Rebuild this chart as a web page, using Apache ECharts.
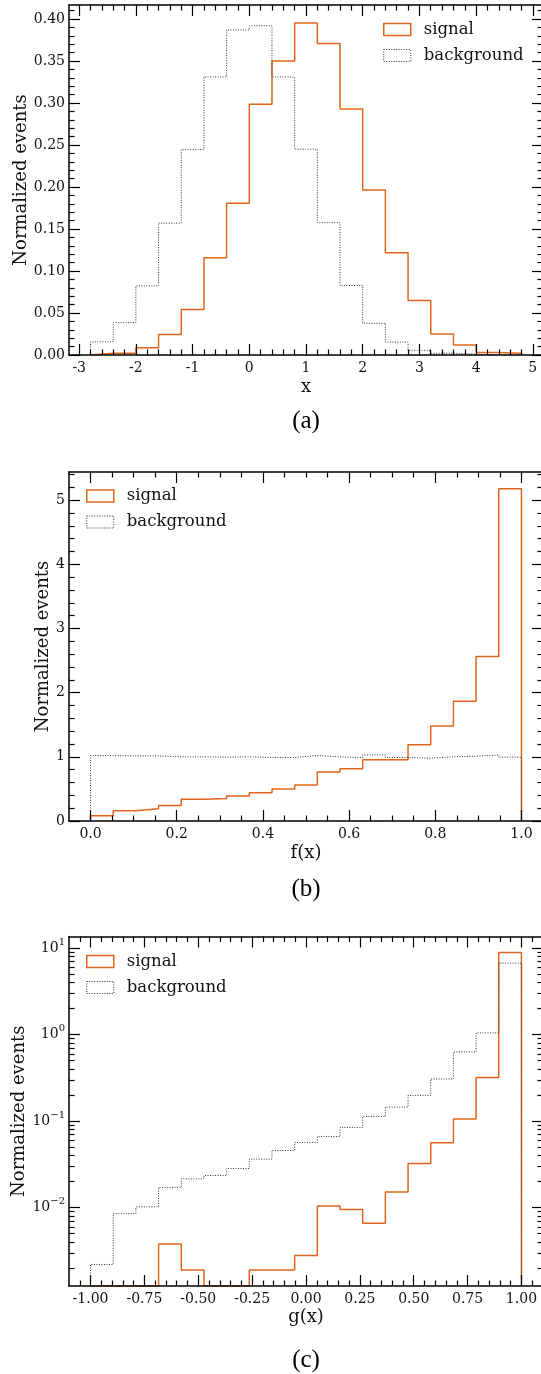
<!DOCTYPE html>
<html>
<head>
<meta charset="utf-8">
<style>
  html, body { margin: 0; padding: 0; background: #fff; }
  #chart { width: 541px; height: 1374px; }
</style>
<script src="https://cdn.jsdelivr.net/npm/echarts@6/dist/echarts.min.js"></script>
</head>
<body>
<div id="chart"></div>
<script>
const ORANGE = "#e0651a";
const DARK = "#333333";
const FONT = "DejaVu Serif";

// (a) raw variable x, 19 bins
const edgesA = [-2.8, -2.4, -2.0, -1.6, -1.2, -0.8, -0.4, 0.0, 0.4, 0.8, 1.2, 1.6, 2.0, 2.4, 2.8, 3.2, 3.6, 4.0, 4.4, 4.8];
const signalA = [0.002, 0.002, 0.0087, 0.0244, 0.0543, 0.1157, 0.1807, 0.2984, 0.350, 0.3953, 0.371, 0.293, 0.1965, 0.1217, 0.065, 0.025, 0.0118, 0.003, 0.002];
const backgroundA = [0.0157, 0.0386, 0.0823, 0.157, 0.2445, 0.331, 0.387, 0.392, 0.331, 0.245, 0.1575, 0.0827, 0.0378, 0.0154, 0.0055, 0.002, 0.001, 0, 0];
const xTicksA = [-3, -2, -1, 0, 1, 2, 3, 4, 5];
const yTicksA = [0, 0.05, 0.1, 0.15, 0.2, 0.25, 0.3, 0.35, 0.4];

// (b) f(x), 19 bins on [0, 1]
const edgesB = [0, 0.0526, 0.1053, 0.1579, 0.2105, 0.2632, 0.3158, 0.3684, 0.4211, 0.4737, 0.5263, 0.5789, 0.6316, 0.6842, 0.7368, 0.7895, 0.8421, 0.8947, 0.9474, 1.0];
const signalB = [0.083, 0.16, 0.19, 0.24, 0.34, 0.35, 0.39, 0.44, 0.50, 0.56, 0.764, 0.815, 0.955, 0.955, 1.19, 1.48, 1.865, 2.566, 5.18];
const backgroundB = [1.02, 1.015, 1.015, 1.0, 1.0, 0.995, 1.0, 0.99, 0.99, 1.02, 1.0, 0.985, 1.03, 0.99, 0.98, 1.0, 1.01, 1.03, 0.995];
const xTicksB = [0, 0.2, 0.4, 0.6, 0.8, 1.0];
const yTicksB = [0, 1, 2, 3, 4, 5];

// (c) g(x), 19 bins on [-1, 1], log y
const edgesC = [-1, -0.8947, -0.7895, -0.6842, -0.5789, -0.4737, -0.3684, -0.2632, -0.1579, -0.0526, 0.0526, 0.1579, 0.2632, 0.3684, 0.4737, 0.5789, 0.6842, 0.7895, 0.8947, 1.0];
const signalC = [0, 0, 0, 0.0038, 0.0019, 0, 0, 0.0019, 0.0019, 0.0028, 0.0104, 0.0095, 0.0066, 0.0151, 0.0324, 0.0561, 0.106, 0.318, 8.9];
const backgroundC = [0.0022, 0.0085, 0.0102, 0.0171, 0.0215, 0.0235, 0.0283, 0.0363, 0.0457, 0.0566, 0.0664, 0.0845, 0.113, 0.145, 0.198, 0.306, 0.63, 1.045, 6.7];
const xTicksC = [-1, -0.75, -0.5, -0.25, 0, 0.25, 0.5, 0.75, 1];
const yTicksC = [0.01, 0.1, 1, 10];

const captions = ["(a)", "(b)", "(c)"];

const round = (v) => Math.round(v * 1e6) / 1e6;

const minorsBetween = (lo, hi, step, majors) => {
  const out = [];
  for (let k = Math.ceil(lo / step - 1e-9); k * step < hi - 1e-9; k++) {
    const v = round(k * step);
    if (v > lo + 1e-9 && !majors.some((m) => Math.abs(m - v) < 1e-9)) out.push(v);
  }
  return out;
};

const logMinors = (lo, hi) => {
  const out = [];
  [0.001, 0.01, 0.1, 1, 10].forEach((d) => {
    for (let m = 2; m <= 9; m++) {
      const v = round(m * d);
      if (v > lo && v < hi) out.push(v);
    }
  });
  return out;
};

// step outline like matplotlib histtype="step"
const outline = (edges, values, floor) => {
  const pts = [[edges[0], floor]];
  values.forEach((v, i) => {
    const y = v > floor ? v : floor;
    pts.push([edges[i], y], [edges[i + 1], y]);
  });
  pts.push([edges[edges.length - 1], floor]);
  return pts;
};

const axisLineStyle = { color: "#000", width: 1.5 };
const tickStyle = { color: "#000", width: 1.2 };
const labelText = { color: "#111", fontFamily: FONT, fontSize: 14 };

const makeAxes = (kind, gridIndex, o) => {
  const sides = kind === "x" ? ["bottom", "top"] : ["left", "right"];
  const base = {
    gridIndex,
    type: o.type || "value",
    min: o.min,
    max: o.max,
    splitLine: { show: false },
    minorTick: { show: false },
    minorSplitLine: { show: false },
    nameMoveOverlap: false,
    silent: true,
    z: 5
  };
  if (o.type === "log") base.logBase = 10;
  const axes = [];
  sides.forEach((side, s) => {
    axes.push({
      ...base,
      position: side,
      axisLine: { show: true, onZero: false, lineStyle: axisLineStyle },
      axisTick: { show: true, inside: true, length: 11, customValues: o.major, lineStyle: tickStyle },
      axisLabel: s === 0
        ? { show: true, customValues: o.major, formatter: o.fmt, margin: o.margin, rich: o.rich, ...labelText }
        : { show: false },
      name: s === 0 ? o.name : "",
      nameLocation: "middle",
      nameGap: o.nameGap,
      nameTextStyle: { color: "#111", fontFamily: FONT, fontSize: 18 }
    });
    axes.push({
      ...base,
      position: side,
      axisLine: { show: false, onZero: false },
      axisTick: { show: true, inside: true, length: 5.5, customValues: o.minor, lineStyle: tickStyle },
      axisLabel: { show: false }
    });
  });
  return axes;
};

const supExp = (v) => {
  const e = Math.round(Math.log10(v));
  return `{b|10}{s|${e < 0 ? "\u2212" + -e : e}}`;
};

const yMinC = 0.00124;
const yMaxC = 13.6;

const panels = [
  {
    x: { min: -3.18, max: 5.18, major: xTicksA, minor: minorsBetween(-3.18, 5.18, 0.2, xTicksA), fmt: (v) => String(v), name: "x", nameGap: 23, margin: 6 },
    y: { min: 0, max: 0.4167, major: yTicksA, minor: minorsBetween(0, 0.4167, 0.01, yTicksA), fmt: (v) => v.toFixed(2), name: "Normalized events", nameGap: 39, margin: 4 },
    signal: signalA, background: backgroundA, edges: edgesA, floor: 0
  },
  {
    x: { min: -0.05, max: 1.05, major: xTicksB, minor: minorsBetween(-0.05, 1.05, 0.05, xTicksB), fmt: (v) => v.toFixed(1), name: "f(x)", nameGap: 23, margin: 6 },
    y: { min: 0, max: 5.44, major: yTicksB, minor: minorsBetween(0, 5.44, 0.2, yTicksB), fmt: (v) => String(v), name: "Normalized events", nameGap: 17, margin: 4 },
    signal: signalB, background: backgroundB, edges: edgesB, floor: 0
  },
  {
    x: { min: -1.1, max: 1.1, major: xTicksC, minor: minorsBetween(-1.1, 1.1, 0.05, xTicksC), fmt: (v) => v.toFixed(2), name: "g(x)", nameGap: 22, margin: 6 },
    y: {
      type: "log", min: yMinC, max: yMaxC, major: yTicksC, minor: logMinors(yMinC, yMaxC), fmt: supExp,
      rich: {
        b: { fontFamily: FONT, fontSize: 14, color: "#111", lineHeight: 22 },
        s: { fontFamily: FONT, fontSize: 10, color: "#111", lineHeight: 10, verticalAlign: "top" }
      },
      name: "Normalized events", nameGap: 41, margin: 4
    },
    signal: signalC, background: backgroundC, edges: edgesC, floor: yMinC
  }
];

const grids = [
  { left: 69, width: 474, top: 5, height: 350 },
  { left: 69, width: 474, top: 472, height: 349 },
  { left: 69, width: 474, top: 936.5, height: 349.5 }
];

const legendTops = [21, 487.5, 953];
const legendLefts = [383, 86, 86];
const captionY = [421, 889, 1360];

const legendData = [
  { name: "signal", icon: "rect", itemStyle: { color: "rgba(0,0,0,0)", borderColor: ORANGE, borderWidth: 1.5 } },
  { name: "background", icon: "rect", itemStyle: { color: "rgba(0,0,0,0)", borderColor: DARK, borderWidth: 1, borderType: [1, 1.5] } }
];

const option = {
  animation: false,
  grid: grids.map((g) => ({ ...g, containLabel: false, outerBoundsMode: "none" })),
  xAxis: panels.flatMap((p, i) => makeAxes("x", i, p.x)),
  yAxis: panels.flatMap((p, i) => makeAxes("y", i, p.y)),
  legend: panels.map((p, i) => ({
    orient: "vertical",
    left: legendLefts[i],
    top: legendTops[i],
    padding: 0,
    itemWidth: 27,
    itemHeight: 12,
    itemGap: 9,
    selectedMode: false,
    textStyle: { color: "#111", fontFamily: FONT, fontSize: 16.5, padding: [0, 0, 0, 8] },
    data: legendData
  })),
  graphic: captions.map((c, i) => ({
    type: "text",
    x: 306,
    y: captionY[i],
    silent: true,
    style: {
      text: c,
      font: '25px "Liberation Serif"',
      fill: "#000",
      align: "center",
      textAlign: "center",
      verticalAlign: "middle",
      textVerticalAlign: "middle"
    }
  })),
  series: panels.flatMap((p, i) => [
    {
      name: "signal",
      type: "line",
      xAxisIndex: 4 * i,
      yAxisIndex: 4 * i,
      data: outline(p.edges, p.signal, p.floor),
      symbol: "none",
      silent: true,
      z: 2,
      lineStyle: { color: ORANGE, width: 1.5 },
      itemStyle: { color: ORANGE }
    },
    {
      name: "background",
      type: "line",
      xAxisIndex: 4 * i,
      yAxisIndex: 4 * i,
      data: outline(p.edges, p.background, p.floor),
      symbol: "none",
      silent: true,
      z: 3,
      lineStyle: { color: DARK, width: 1, type: [1, 1.5] },
      itemStyle: { color: DARK }
    }
  ])
};

echarts.init(document.getElementById("chart"), null, { renderer: "canvas" }).setOption(option);
</script>
</body>
</html>
